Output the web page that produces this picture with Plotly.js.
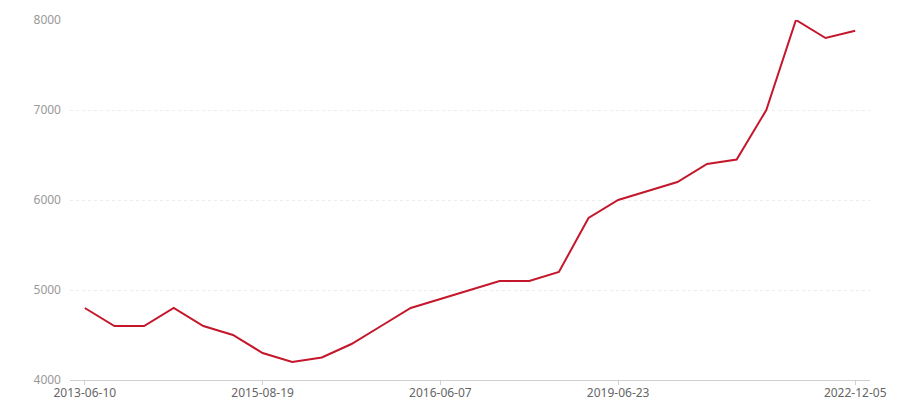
<!DOCTYPE html>
<html>
<head>
<meta charset="utf-8">
<script src="https://cdn.plot.ly/plotly-3.0.1.min.js"></script>
<style>html,body{margin:0;padding:0;background:#fff;}#chart{width:900px;height:400px;}</style>
</head>
<body>
<div id="chart"></div>
<script>
// point order (27 evenly spaced observations)
const pointIndex = [0,1,2,3,4,5,6,7,8,9,10,11,12,13,14,15,16,17,18,19,20,21,22,23,24,25,26];
const values = [4800,4600,4600,4800,4600,4500,4300,4200,4250,4400,4600,4800,4900,5000,5100,5100,5200,5800,6000,6100,6200,6400,6450,7000,8000,7800,7880];
const tickIndex = [0,6,12,18,26];
const tickLabels = ["2013-06-10","2015-08-19","2016-06-07","2019-06-23","2022-12-05"];
const yTicks = [4000,5000,6000,7000,8000];

const trace = {
  x: pointIndex,
  y: values,
  type: 'scatter',
  mode: 'lines',
  line: {color: '#c4172c', width: 2},
  hoverinfo: 'y'
};

const layout = {
  width: 900, height: 400,
  margin: {l: 70, r: 30, t: 20, b: 20},
  paper_bgcolor: '#fff', plot_bgcolor: '#fff',
  showlegend: false,
  font: {family: '"Noto Sans", "Open Sans", sans-serif', size: 12, color: '#666'},
  xaxis: {
    range: [-0.5, 26.5],
    tickmode: 'array', tickvals: tickIndex, ticktext: tickLabels,
    showgrid: false, zeroline: false,
    showline: true, linecolor: '#d0d0d0', linewidth: 1,
    ticks: 'outside', ticklen: 4, tickcolor: '#d0d0d0', tickwidth: 1,
    ticklabelstandoff: -2,
    tickfont: {size: 12, color: '#666'}
  },
  yaxis: {
    range: [4000, 8000],
    tickmode: 'array', tickvals: yTicks,
    showgrid: true, gridcolor: '#ececec', griddash: '3px,3px', gridwidth: 1,
    zeroline: false, showline: false, ticks: '',
    ticklabelstandoff: 8,
    tickfont: {size: 12, color: '#999'}
  }
};

Plotly.newPlot('chart', [trace], layout, {displayModeBar: false, staticPlot: true});
</script>
</body>
</html>
